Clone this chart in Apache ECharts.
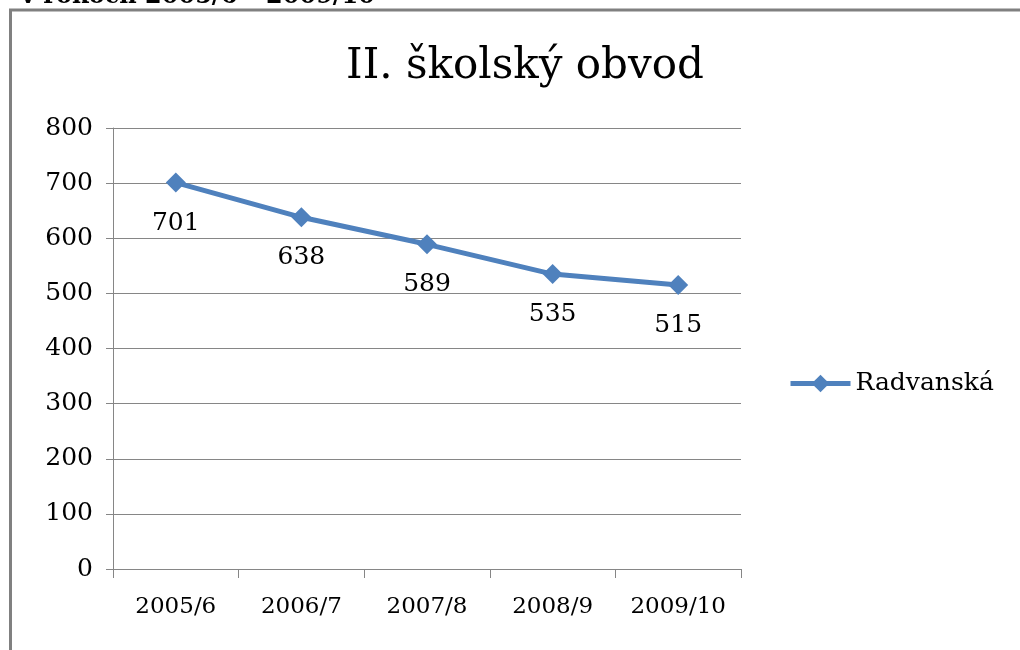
<!DOCTYPE html>
<html>
<head>
<meta charset="utf-8">
<script src="https://cdn.jsdelivr.net/npm/echarts@6/dist/echarts.min.js"></script>
<style>
  html, body { margin: 0; padding: 0; background: #fff; }
  #main { width: 1020px; height: 650px; }
</style>
</head>
<body>
<div id="main"></div>
<script>
// roky (školské)
var categories = ['2005/6', '2006/7', '2007/8', '2008/9', '2009/10'];
// počet žiakov - Radvanská
var radvanska = [701, 638, 589, 535, 515];
var seriesName = 'Radvanská';

var font = 'DejaVu Serif';
var chart = echarts.init(document.getElementById('main'));

var option = {
  backgroundColor: '#ffffff',
  animation: false,
  title: {
    text: 'II. školský obvod',
    left: 520,
    top: 41,
    textAlign: 'center',
    textStyle: { fontFamily: font, fontSize: 42, fontWeight: 'normal', color: '#000' }
  },
  graphic: [
    // orezaný nadpis nad rámom
    {
      type: 'text', right: 645, top: -15,
      style: { text: 'v rokoch 2005/6 – 2009/10', font: 'bold 24px "DejaVu Serif"', fill: '#000' }
    },
    // rám grafu
    {
      type: 'rect', shape: { x: 10.5, y: 10, width: 1030, height: 660 },
      style: { fill: 'none', stroke: '#808080', lineWidth: 3 }
    }
  ],
  legend: {
    data: [seriesName],
    left: 783,
    top: 366,
    itemWidth: 60,
    itemHeight: 22,
    itemGap: 4,
    lineStyle: { width: 5 },
    textStyle: { fontFamily: font, fontSize: 25, color: '#000' }
  },
  grid: { left: 113, right: 279, top: 128, bottom: 81 },
  xAxis: {
    type: 'category',
    data: categories,
    boundaryGap: true,
    axisLine: { lineStyle: { color: '#868686', width: 1 } },
    axisTick: { show: true, length: 9, interval: 0, lineStyle: { color: '#868686' } },
    axisLabel: { fontFamily: font, fontSize: 23, color: '#000', margin: 27, interval: 0 }
  },
  yAxis: {
    type: 'value',
    min: 0,
    max: 800,
    interval: 100,
    axisLine: { show: true, lineStyle: { color: '#868686', width: 1 } },
    axisTick: { show: true, length: 7, lineStyle: { color: '#868686' } },
    axisLabel: { fontFamily: font, fontSize: 25, color: '#000', margin: 20 },
    splitLine: { lineStyle: { color: '#868686', width: 1 } }
  },
  series: [{
    name: seriesName,
    type: 'line',
    data: radvanska,
    symbol: 'diamond',
    symbolSize: 20,
    itemStyle: { color: '#4F81BD' },
    lineStyle: { color: '#4F81BD', width: 5 },
    label: {
      show: true,
      position: 'bottom',
      distance: 18,
      fontFamily: font,
      fontSize: 25,
      color: '#000'
    }
  }]
};

chart.setOption(option);
</script>
</body>
</html>
